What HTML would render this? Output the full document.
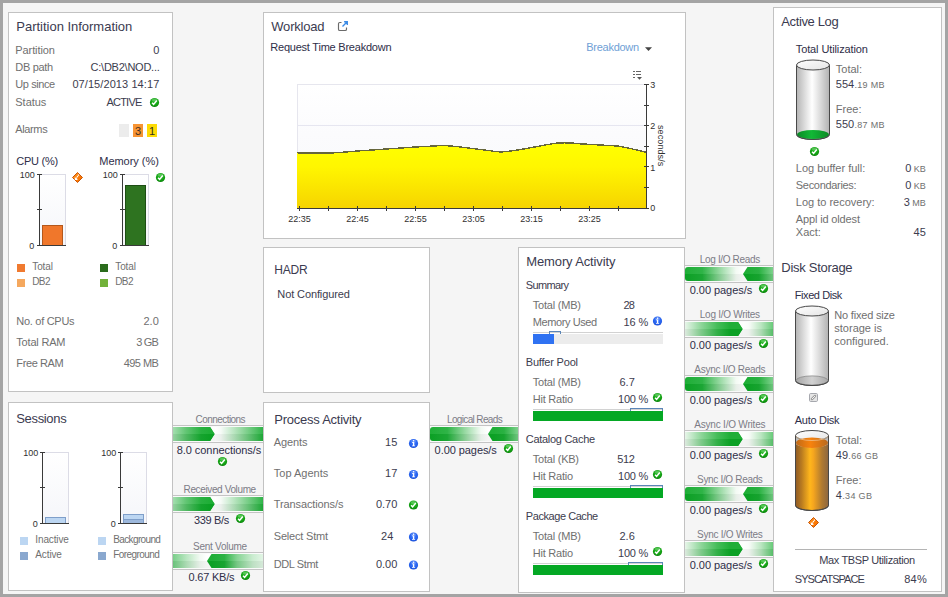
<!DOCTYPE html>
<html><head><meta charset="utf-8"><title>DB2 Partition Overview</title>
<style>
html,body{margin:0;padding:0}
body{width:948px;height:597px;background:#f5f5f5;position:relative;overflow:hidden;font-family:"Liberation Sans",sans-serif}
.fr{position:absolute;left:0;top:0;width:942px;height:591px;border:3px solid #a4a4a4;z-index:5;pointer-events:none}
.p{position:absolute;background:#fff;border:1px solid #c2c2c2}
.t{position:absolute;white-space:nowrap;line-height:20px;display:block}
svg{position:absolute;left:0;top:0}
</style></head>
<body>
<div class="p" style="left:8px;top:12px;width:163px;height:378px"></div>
<div class="p" style="left:8px;top:402px;width:163px;height:187px"></div>
<div class="p" style="left:263px;top:12px;width:421px;height:225px"></div>
<div class="p" style="left:263px;top:247px;width:165px;height:144px"></div>
<div class="p" style="left:263px;top:402px;width:165px;height:188px"></div>
<div class="p" style="left:518px;top:247px;width:165px;height:344px"></div>
<div class="p" style="left:773px;top:7px;width:167px;height:583px"></div>
<svg width="948" height="597" viewBox="0 0 948 597" shape-rendering="crispEdges">
<defs>
<linearGradient id="gbg" x1="0" y1="0" x2="0" y2="1"><stop offset="0" stop-color="#ffffff"/><stop offset="1" stop-color="#f5f6fa"/></linearGradient>
<linearGradient id="cbg" x1="0" y1="0" x2="0" y2="1"><stop offset="0" stop-color="#ffffff"/><stop offset="0.4" stop-color="#fbfbfd"/><stop offset="1" stop-color="#f7f8fb"/></linearGradient>
<linearGradient id="yel" gradientUnits="userSpaceOnUse" x1="0" y1="145" x2="0" y2="208"><stop offset="0" stop-color="#ffff00"/><stop offset="0.35" stop-color="#fff600"/><stop offset="1" stop-color="#f6d400"/></linearGradient>
<linearGradient id="cylg" x1="0" y1="0" x2="1" y2="0"><stop offset="0" stop-color="#b4b4b4"/><stop offset="0.25" stop-color="#dcdcdc"/><stop offset="0.47" stop-color="#ffffff"/><stop offset="0.7" stop-color="#dedede"/><stop offset="1" stop-color="#b2b2b2"/></linearGradient>
<linearGradient id="topg" x1="0" y1="0" x2="1" y2="1"><stop offset="0" stop-color="#ffffff"/><stop offset="1" stop-color="#e4e4e4"/></linearGradient>
<linearGradient id="btm" x1="0" y1="0" x2="1" y2="0"><stop offset="0" stop-color="#a6a6a6"/><stop offset="0.5" stop-color="#d2d2d2"/><stop offset="1" stop-color="#a8a8a8"/></linearGradient>
<linearGradient id="grn" x1="0" y1="0" x2="1" y2="0"><stop offset="0" stop-color="#0c8a26"/><stop offset="0.45" stop-color="#12b836"/><stop offset="1" stop-color="#0c8a26"/></linearGradient>
<linearGradient id="org" x1="0" y1="0" x2="1" y2="0"><stop offset="0" stop-color="#8e5a26"/><stop offset="0.18" stop-color="#b87a20"/><stop offset="0.44" stop-color="#ffb61c"/><stop offset="0.54" stop-color="#f6a61e"/><stop offset="0.8" stop-color="#b07a30"/><stop offset="1" stop-color="#8c6640"/></linearGradient>
<linearGradient id="orgt" x1="0" y1="0" x2="1" y2="0"><stop offset="0" stop-color="#c06a18"/><stop offset="0.45" stop-color="#f8820c"/><stop offset="1" stop-color="#b86a20"/></linearGradient>
<radialGradient id="ckg" cx="0.5" cy="0.35" r="0.65"><stop offset="0" stop-color="#2fc22f"/><stop offset="0.7" stop-color="#12a012"/><stop offset="1" stop-color="#0a7e0a"/></radialGradient>
<radialGradient id="infg" cx="0.5" cy="0.4" r="0.65"><stop offset="0" stop-color="#3f7bff"/><stop offset="0.7" stop-color="#2460ec"/><stop offset="1" stop-color="#1844c4"/></radialGradient>
<linearGradient id="diag" x1="0" y1="0" x2="1" y2="1"><stop offset="0" stop-color="#ffa028"/><stop offset="0.5" stop-color="#fb7a04"/><stop offset="1" stop-color="#f87000"/></linearGradient>
<g id="ck" shape-rendering="geometricPrecision"><circle r="4.6" fill="url(#ckg)"/><ellipse cx="0" cy="-2.4" rx="2.9" ry="1.5" fill="#fff" opacity="0.22"/><path d="M-2.4 0.2L-0.9 1.9L2.3 -2.0" fill="none" stroke="#fff" stroke-width="1.5"/></g>
<g id="inf" shape-rendering="geometricPrecision"><circle r="4.6" fill="url(#infg)"/><ellipse cx="0" cy="-2.4" rx="2.9" ry="1.5" fill="#fff" opacity="0.18"/><circle cx="0.1" cy="-2.7" r="0.8" fill="#fff"/><path d="M-1.5 -1.5H0.8V1.9H1.6V2.8H-1.5V1.9H-0.6V-0.7H-1.5Z" fill="#fff"/></g>
<g id="dia" shape-rendering="geometricPrecision"><path d="M0 -5L5 0L0 5L-5 0Z" fill="url(#diag)" stroke="#c85608" stroke-width="1"/><path d="M-2.7 -0.5V2.6H0.5Z" fill="#fff"/><path d="M-1.3 1.2L1.3 -3.0" stroke="#fff" stroke-width="1.4" stroke-dasharray="1.2 0.6" fill="none"/></g>
</defs>
<use href="#ck" x="154.5" y="102.5"/>
<rect x="119" y="124" width="10" height="13" fill="#ececec"/>
<rect x="133" y="124" width="10" height="13" fill="#f79433"/>
<rect x="147" y="124" width="10" height="13" fill="#fddb05"/>
<rect x="40" y="174" width="26" height="71" fill="url(#gbg)"/>
<path d="M40 174.5H65.5V245" fill="none" stroke="#dcdce6" stroke-width="1"/>
<path d="M37 174.5H42 M37 209.5H42 M39.5 174V246 M37 245.5H66" fill="none" stroke="#3a3a3a" stroke-width="1"/>
<rect x="42.5" y="225.5" width="20" height="20" fill="#f0772b" stroke="#b4581c" stroke-width="1"/>
<use href="#dia" x="77.5" y="177.5"/>
<rect x="123" y="174" width="26" height="71" fill="url(#gbg)"/>
<path d="M123 174.5H148.5V245" fill="none" stroke="#dcdce6" stroke-width="1"/>
<path d="M120 174.5H125 M120 209.5H125 M122.5 174V246 M120 245.5H149" fill="none" stroke="#3a3a3a" stroke-width="1"/>
<rect x="125.5" y="185.5" width="20" height="60" fill="#2e7320" stroke="#1d4d14" stroke-width="1"/>
<use href="#ck" x="160.5" y="177.5"/>
<rect x="17" y="264" width="8" height="8" fill="#f07a30"/>
<rect x="17" y="279" width="8" height="8" fill="#f5a85e"/>
<rect x="100" y="264" width="8" height="8" fill="#2b6c1c"/>
<rect x="100" y="279" width="8" height="8" fill="#72b23a"/>
<rect x="43" y="452" width="26" height="71" fill="url(#gbg)"/>
<path d="M43 452.5H68.5V523" fill="none" stroke="#dcdce6" stroke-width="1"/>
<path d="M40 452.5H45 M40 487.5H45 M42.5 452V524 M40 523.5H69" fill="none" stroke="#3a3a3a" stroke-width="1"/>
<rect x="45.5" y="517.5" width="20" height="6" fill="#bcd6f2" stroke="#7f9fca" stroke-width="1"/>
<rect x="121" y="452" width="26" height="71" fill="url(#gbg)"/>
<path d="M121 452.5H146.5V523" fill="none" stroke="#dcdce6" stroke-width="1"/>
<path d="M118 452.5H123 M118 487.5H123 M120.5 452V524 M118 523.5H147" fill="none" stroke="#3a3a3a" stroke-width="1"/>
<rect x="123.5" y="514.5" width="20" height="9" fill="#bcd6f2" stroke="#7f9fca" stroke-width="1"/>
<rect x="123.5" y="519.5" width="20" height="4" fill="#9db8dc" stroke="#7f9fca" stroke-width="1"/>
<rect x="20" y="537" width="8" height="8" fill="#bcd6f2"/>
<rect x="20" y="552" width="8" height="8" fill="#8aa8cf"/>
<rect x="98" y="537" width="8" height="8" fill="#bcd6f2"/>
<rect x="98" y="552" width="8" height="8" fill="#8aa8cf"/>
<rect x="173" y="426" width="90" height="16" fill="#fafafa"/>
<path d="M173 425.5H263 M173 442.5H263" stroke="#c4c4c4" stroke-width="1" fill="none"/>
<linearGradient id="fa1" gradientUnits="userSpaceOnUse" x1="173" x2="210.5"><stop offset="0" stop-color="#9cdba8"/><stop offset="0.35" stop-color="#55c168"/><stop offset="0.75" stop-color="#16ab30"/><stop offset="1" stop-color="#0ca826"/></linearGradient>
<linearGradient id="fb1" gradientUnits="userSpaceOnUse" x1="215" x2="263"><stop offset="0" stop-color="#ffffff"/><stop offset="0.12" stop-color="#f6fbf7"/><stop offset="0.55" stop-color="#8fd69b"/><stop offset="1" stop-color="#1fae39"/></linearGradient>
<rect x="211" y="427" width="52" height="14" fill="url(#fb1)"/>
<path d="M173 427H210.5L215 434.0L210.5 441H173Z" fill="url(#fa1)" shape-rendering="geometricPrecision"/>
<path d="M210.5 427L215 434.0L210.5 441L215.2 441L215.2 427Z" fill="#fdfefd" shape-rendering="geometricPrecision"/>
<rect x="173" y="427" width="90" height="7" fill="#ffffff" opacity="0.08"/>
<rect x="173" y="434" width="90" height="7" fill="#000000" opacity="0.045"/>
<use href="#ck" x="222.5" y="461.5"/>
<rect x="173" y="496" width="90" height="16" fill="#fafafa"/>
<path d="M173 495.5H263 M173 512.5H263" stroke="#c4c4c4" stroke-width="1" fill="none"/>
<linearGradient id="fa2" gradientUnits="userSpaceOnUse" x1="173" x2="210.5"><stop offset="0" stop-color="#9cdba8"/><stop offset="0.35" stop-color="#55c168"/><stop offset="0.75" stop-color="#16ab30"/><stop offset="1" stop-color="#0ca826"/></linearGradient>
<linearGradient id="fb2" gradientUnits="userSpaceOnUse" x1="215" x2="263"><stop offset="0" stop-color="#ffffff"/><stop offset="0.12" stop-color="#f6fbf7"/><stop offset="0.55" stop-color="#8fd69b"/><stop offset="1" stop-color="#1fae39"/></linearGradient>
<rect x="211" y="497" width="52" height="14" fill="url(#fb2)"/>
<path d="M173 497H210.5L215 504.0L210.5 511H173Z" fill="url(#fa2)" shape-rendering="geometricPrecision"/>
<path d="M210.5 497L215 504.0L210.5 511L215.2 511L215.2 497Z" fill="#fdfefd" shape-rendering="geometricPrecision"/>
<rect x="173" y="497" width="90" height="7" fill="#ffffff" opacity="0.08"/>
<rect x="173" y="504" width="90" height="7" fill="#000000" opacity="0.045"/>
<use href="#ck" x="240.5" y="518.5"/>
<rect x="173" y="553" width="90" height="16" fill="#fafafa"/>
<path d="M173 552.5H263 M173 569.5H263" stroke="#c4c4c4" stroke-width="1" fill="none"/>
<linearGradient id="fa3" gradientUnits="userSpaceOnUse" x1="173" x2="207"><stop offset="0" stop-color="#6fcb80"/><stop offset="0.4" stop-color="#b4e4bc"/><stop offset="0.8" stop-color="#f2faf3"/><stop offset="1" stop-color="#ffffff"/></linearGradient>
<linearGradient id="fb3" gradientUnits="userSpaceOnUse" x1="211.5" x2="263"><stop offset="0" stop-color="#0ca826"/><stop offset="0.25" stop-color="#1aac34"/><stop offset="0.5" stop-color="#7ed18c"/><stop offset="0.8" stop-color="#c6ebcc"/><stop offset="1" stop-color="#e0f4e3"/></linearGradient>
<rect x="173" y="554" width="38.5" height="14" fill="url(#fa3)"/>
<path d="M263 554H211.5L207 561.0L211.5 568H263Z" fill="url(#fb3)" shape-rendering="geometricPrecision"/>
<rect x="173" y="554" width="90" height="7" fill="#ffffff" opacity="0.08"/>
<rect x="173" y="561" width="90" height="7" fill="#000000" opacity="0.045"/>
<use href="#ck" x="245.5" y="575.5"/>
<rect x="430" y="426" width="88" height="16" fill="#fafafa"/>
<path d="M430 425.5H518 M430 442.5H518" stroke="#c4c4c4" stroke-width="1" fill="none"/>
<linearGradient id="fa4" gradientUnits="userSpaceOnUse" x1="430" x2="488"><stop offset="0" stop-color="#0ca826"/><stop offset="0.3" stop-color="#1eae38"/><stop offset="0.6" stop-color="#8ed69a"/><stop offset="0.88" stop-color="#f2faf3"/><stop offset="1" stop-color="#ffffff"/></linearGradient>
<linearGradient id="fb4" gradientUnits="userSpaceOnUse" x1="492.5" x2="518"><stop offset="0" stop-color="#0ca826"/><stop offset="0.45" stop-color="#18ab32"/><stop offset="1" stop-color="#74ce84"/></linearGradient>
<path d="M433 427H492.5V441H433Q430 441 430 438V430Q430 427 433 427Z" fill="url(#fa4)" shape-rendering="geometricPrecision"/>
<path d="M518 427H492.5L488 434.0L492.5 441H518Z" fill="url(#fb4)" shape-rendering="geometricPrecision"/>
<rect x="430" y="427" width="88" height="7" fill="#ffffff" opacity="0.08"/>
<rect x="430" y="434" width="88" height="7" fill="#000000" opacity="0.045"/>
<use href="#ck" x="508.5" y="448.5"/>
<rect x="685" y="266" width="88" height="16" fill="#fafafa"/>
<path d="M685 265.5H773 M685 282.5H773" stroke="#c4c4c4" stroke-width="1" fill="none"/>
<linearGradient id="fa5" gradientUnits="userSpaceOnUse" x1="685" x2="743"><stop offset="0" stop-color="#0ca826"/><stop offset="0.3" stop-color="#1eae38"/><stop offset="0.6" stop-color="#8ed69a"/><stop offset="0.88" stop-color="#f2faf3"/><stop offset="1" stop-color="#ffffff"/></linearGradient>
<linearGradient id="fb5" gradientUnits="userSpaceOnUse" x1="747.5" x2="773"><stop offset="0" stop-color="#0ca826"/><stop offset="0.45" stop-color="#18ab32"/><stop offset="1" stop-color="#74ce84"/></linearGradient>
<path d="M688 267H747.5V281H688Q685 281 685 278V270Q685 267 688 267Z" fill="url(#fa5)" shape-rendering="geometricPrecision"/>
<path d="M773 267H747.5L743 274.0L747.5 281H773Z" fill="url(#fb5)" shape-rendering="geometricPrecision"/>
<rect x="685" y="267" width="88" height="7" fill="#ffffff" opacity="0.08"/>
<rect x="685" y="274" width="88" height="7" fill="#000000" opacity="0.045"/>
<use href="#ck" x="763.5" y="288.5"/>
<rect x="685" y="321" width="88" height="16" fill="#fafafa"/>
<path d="M685 320.5H773 M685 337.5H773" stroke="#c4c4c4" stroke-width="1" fill="none"/>
<linearGradient id="fa6" gradientUnits="userSpaceOnUse" x1="685" x2="738.5"><stop offset="0" stop-color="#e6f5e8"/><stop offset="0.3" stop-color="#86d392"/><stop offset="0.6" stop-color="#36b84c"/><stop offset="0.85" stop-color="#0ca826"/><stop offset="1" stop-color="#0ca826"/></linearGradient>
<linearGradient id="fb6" gradientUnits="userSpaceOnUse" x1="743" x2="773"><stop offset="0" stop-color="#ffffff"/><stop offset="0.2" stop-color="#f8fcf8"/><stop offset="0.6" stop-color="#b5e4bc"/><stop offset="1" stop-color="#5cc66e"/></linearGradient>
<rect x="739" y="322" width="34" height="14" fill="url(#fb6)"/>
<path d="M685 322H738.5L743 329.0L738.5 336H685Z" fill="url(#fa6)" shape-rendering="geometricPrecision"/>
<path d="M738.5 322L743 329.0L738.5 336L743.2 336L743.2 322Z" fill="#fdfefd" shape-rendering="geometricPrecision"/>
<rect x="685" y="322" width="88" height="7" fill="#ffffff" opacity="0.08"/>
<rect x="685" y="329" width="88" height="7" fill="#000000" opacity="0.045"/>
<use href="#ck" x="763.5" y="343.5"/>
<rect x="685" y="376" width="88" height="16" fill="#fafafa"/>
<path d="M685 375.5H773 M685 392.5H773" stroke="#c4c4c4" stroke-width="1" fill="none"/>
<linearGradient id="fa7" gradientUnits="userSpaceOnUse" x1="685" x2="743"><stop offset="0" stop-color="#0ca826"/><stop offset="0.3" stop-color="#1eae38"/><stop offset="0.6" stop-color="#8ed69a"/><stop offset="0.88" stop-color="#f2faf3"/><stop offset="1" stop-color="#ffffff"/></linearGradient>
<linearGradient id="fb7" gradientUnits="userSpaceOnUse" x1="747.5" x2="773"><stop offset="0" stop-color="#0ca826"/><stop offset="0.45" stop-color="#18ab32"/><stop offset="1" stop-color="#74ce84"/></linearGradient>
<path d="M688 377H747.5V391H688Q685 391 685 388V380Q685 377 688 377Z" fill="url(#fa7)" shape-rendering="geometricPrecision"/>
<path d="M773 377H747.5L743 384.0L747.5 391H773Z" fill="url(#fb7)" shape-rendering="geometricPrecision"/>
<rect x="685" y="377" width="88" height="7" fill="#ffffff" opacity="0.08"/>
<rect x="685" y="384" width="88" height="7" fill="#000000" opacity="0.045"/>
<use href="#ck" x="763.5" y="398.5"/>
<rect x="685" y="431" width="88" height="16" fill="#fafafa"/>
<path d="M685 430.5H773 M685 447.5H773" stroke="#c4c4c4" stroke-width="1" fill="none"/>
<linearGradient id="fa8" gradientUnits="userSpaceOnUse" x1="685" x2="738.5"><stop offset="0" stop-color="#e6f5e8"/><stop offset="0.3" stop-color="#86d392"/><stop offset="0.6" stop-color="#36b84c"/><stop offset="0.85" stop-color="#0ca826"/><stop offset="1" stop-color="#0ca826"/></linearGradient>
<linearGradient id="fb8" gradientUnits="userSpaceOnUse" x1="743" x2="773"><stop offset="0" stop-color="#ffffff"/><stop offset="0.2" stop-color="#f8fcf8"/><stop offset="0.6" stop-color="#b5e4bc"/><stop offset="1" stop-color="#5cc66e"/></linearGradient>
<rect x="739" y="432" width="34" height="14" fill="url(#fb8)"/>
<path d="M685 432H738.5L743 439.0L738.5 446H685Z" fill="url(#fa8)" shape-rendering="geometricPrecision"/>
<path d="M738.5 432L743 439.0L738.5 446L743.2 446L743.2 432Z" fill="#fdfefd" shape-rendering="geometricPrecision"/>
<rect x="685" y="432" width="88" height="7" fill="#ffffff" opacity="0.08"/>
<rect x="685" y="439" width="88" height="7" fill="#000000" opacity="0.045"/>
<use href="#ck" x="763.5" y="453.5"/>
<rect x="685" y="486" width="88" height="16" fill="#fafafa"/>
<path d="M685 485.5H773 M685 502.5H773" stroke="#c4c4c4" stroke-width="1" fill="none"/>
<linearGradient id="fa9" gradientUnits="userSpaceOnUse" x1="685" x2="743"><stop offset="0" stop-color="#0ca826"/><stop offset="0.3" stop-color="#1eae38"/><stop offset="0.6" stop-color="#8ed69a"/><stop offset="0.88" stop-color="#f2faf3"/><stop offset="1" stop-color="#ffffff"/></linearGradient>
<linearGradient id="fb9" gradientUnits="userSpaceOnUse" x1="747.5" x2="773"><stop offset="0" stop-color="#0ca826"/><stop offset="0.45" stop-color="#18ab32"/><stop offset="1" stop-color="#74ce84"/></linearGradient>
<path d="M688 487H747.5V501H688Q685 501 685 498V490Q685 487 688 487Z" fill="url(#fa9)" shape-rendering="geometricPrecision"/>
<path d="M773 487H747.5L743 494.0L747.5 501H773Z" fill="url(#fb9)" shape-rendering="geometricPrecision"/>
<rect x="685" y="487" width="88" height="7" fill="#ffffff" opacity="0.08"/>
<rect x="685" y="494" width="88" height="7" fill="#000000" opacity="0.045"/>
<use href="#ck" x="763.5" y="508.5"/>
<rect x="685" y="541" width="88" height="16" fill="#fafafa"/>
<path d="M685 540.5H773 M685 557.5H773" stroke="#c4c4c4" stroke-width="1" fill="none"/>
<linearGradient id="fa10" gradientUnits="userSpaceOnUse" x1="685" x2="738.5"><stop offset="0" stop-color="#e6f5e8"/><stop offset="0.3" stop-color="#86d392"/><stop offset="0.6" stop-color="#36b84c"/><stop offset="0.85" stop-color="#0ca826"/><stop offset="1" stop-color="#0ca826"/></linearGradient>
<linearGradient id="fb10" gradientUnits="userSpaceOnUse" x1="743" x2="773"><stop offset="0" stop-color="#ffffff"/><stop offset="0.2" stop-color="#f8fcf8"/><stop offset="0.6" stop-color="#b5e4bc"/><stop offset="1" stop-color="#5cc66e"/></linearGradient>
<rect x="739" y="542" width="34" height="14" fill="url(#fb10)"/>
<path d="M685 542H738.5L743 549.0L738.5 556H685Z" fill="url(#fa10)" shape-rendering="geometricPrecision"/>
<path d="M738.5 542L743 549.0L738.5 556L743.2 556L743.2 542Z" fill="#fdfefd" shape-rendering="geometricPrecision"/>
<rect x="685" y="542" width="88" height="7" fill="#ffffff" opacity="0.08"/>
<rect x="685" y="549" width="88" height="7" fill="#000000" opacity="0.045"/>
<use href="#ck" x="763.5" y="563.5"/>
<path d="M341.5 22.5H339.8Q338.5 22.5 338.5 23.8V29.2Q338.5 30.5 339.8 30.5H345.2Q346.5 30.5 346.5 29.2V27.5" fill="none" stroke="#6a6a6a" stroke-width="1.15" shape-rendering="geometricPrecision"/>
<path d="M342.5 26.5L347.2 21.8M344.1 21.7H347.3V24.9" fill="none" stroke="#3b8be6" stroke-width="1.35" shape-rendering="geometricPrecision"/>
<path d="M645 47.2H652L648.5 51Z" fill="#444" shape-rendering="geometricPrecision"/>
<path d="M633 71.5h2M636 71.5h5M633 74.5h2M636 74.5h5M633 77.5h2" stroke="#666" stroke-width="1" fill="none"/>
<path d="M637 77H642L639.5 79.8Z" fill="#555" shape-rendering="geometricPrecision"/>
<rect x="297" y="84" width="349" height="124" fill="url(#cbg)"/>
<path d="M297.5 208V84.5H646" fill="none" stroke="#e6e6ee" stroke-width="1"/>
<path d="M297 125.5H646" stroke="#e6e6f0" stroke-width="1"/>
<path d="M297 152.8 L312 153.0 L328 153.2 L343 152.2 L357 151.0 L372 150.0 L386 149.0 L401 148.0 L415 147.0 L430 146.2 L440 145.6 L448 145.8 L459 146.8 L473.5 148.6 L488 150.4 L496 151.6 L501 152.0 L508 151.4 L520 149.6 L531.5 147.6 L545 145.0 L556 143.2 L564 142.8 L572 143.0 L580 143.8 L590 144.4 L600 145.0 L612 145.6 L619 146.2 L628 148.0 L637 150.0 L646 152.2 L646 208 L297 208Z" fill="url(#yel)" shape-rendering="geometricPrecision"/>
<path d="M297 152.8 L312 153.0 L328 153.2 L343 152.2 L357 151.0 L372 150.0 L386 149.0 L401 148.0 L415 147.0 L430 146.2 L440 145.6 L448 145.8 L459 146.8 L473.5 148.6 L488 150.4 L496 151.6 L501 152.0 L508 151.4 L520 149.6 L531.5 147.6 L545 145.0 L556 143.2 L564 142.8 L572 143.0 L580 143.8 L590 144.4 L600 145.0 L612 145.6 L619 146.2 L628 148.0 L637 150.0 L646 152.2" fill="none" stroke="#66663c" stroke-width="1.4" shape-rendering="crispEdges"/>
<path d="M297 208.5H647 M646.5 84V209 M299.5 206V211 M328.5 206V211 M357.5 206V211 M386.5 206V211 M415.5 206V211 M444.5 206V211 M473.5 206V211 M502.5 206V211 M531.5 206V211 M560.5 206V211 M589.5 206V211 M618.5 206V211 M644 84.5H649 M644 105.5H649 M644 125.5H649 M644 146.5H649 M644 166.5H649 M644 187.5H649 M644 208.5H649" fill="none" stroke="#3a3a3a" stroke-width="1"/>
<use href="#inf" x="413.5" y="443.5"/>
<use href="#inf" x="413.5" y="474.5"/>
<use href="#ck" x="413.5" y="505"/>
<use href="#inf" x="413.5" y="537"/>
<use href="#inf" x="413.5" y="565"/>
<use href="#inf" x="657.5" y="321"/>
<path d="M533 332.5H663" stroke="#d2d2d2" stroke-width="1" fill="none"/>
<path d="M549.5 334V331.5H560.5V334" stroke="#5b86b8" stroke-width="1" fill="none"/>
<rect x="533" y="334" width="130" height="10" fill="#ececec"/>
<rect x="533" y="334" width="21" height="10" fill="#2f72f2"/>
<use href="#ck" x="657.5" y="397.5"/>
<path d="M533 409.5H663" stroke="#d2d2d2" stroke-width="1" fill="none"/>
<path d="M630.5 411V408.5H662.5V411" stroke="#5b86b8" stroke-width="1" fill="none"/>
<rect x="533" y="411" width="130" height="10" fill="#ececec"/>
<rect x="533" y="411" width="130" height="10" fill="#04a824"/>
<use href="#ck" x="657.5" y="474.5"/>
<path d="M533 486.5H663" stroke="#d2d2d2" stroke-width="1" fill="none"/>
<path d="M630.5 488V485.5H662.5V488" stroke="#5b86b8" stroke-width="1" fill="none"/>
<rect x="533" y="488" width="130" height="10" fill="#ececec"/>
<rect x="533" y="488" width="130" height="10" fill="#04a824"/>
<use href="#ck" x="657.5" y="551.5"/>
<path d="M533 563.5H663" stroke="#d2d2d2" stroke-width="1" fill="none"/>
<path d="M628.5 565V562.5H662.5V565" stroke="#5b86b8" stroke-width="1" fill="none"/>
<rect x="533" y="565" width="130" height="10" fill="#ececec"/>
<rect x="533" y="565" width="130" height="10" fill="#04a824"/>
<path d="M796.5 65V134.5A16.5 5 0 0 0 829.5 134.5V65Z" fill="url(#cylg)" stroke="#484848" stroke-width="1" shape-rendering="geometricPrecision"/>
<ellipse cx="813.0" cy="134.5" rx="15.9" ry="4.6" fill="url(#grn)" shape-rendering="geometricPrecision"/>
<path d="M796.5 134.5A16.5 5 0 0 0 829.5 134.5" fill="none" stroke="#484848" stroke-width="1" shape-rendering="geometricPrecision"/>
<ellipse cx="813.0" cy="65" rx="16.5" ry="5" fill="url(#topg)" stroke="#484848" stroke-width="1" shape-rendering="geometricPrecision"/>
<use href="#ck" x="814.5" y="151.5"/>
<path d="M795.5 311V380.5A16.5 5 0 0 0 828.5 380.5V311Z" fill="url(#cylg)" stroke="#484848" stroke-width="1" shape-rendering="geometricPrecision"/>
<ellipse cx="812.0" cy="380.5" rx="15.9" ry="4.6" fill="url(#btm)" stroke="#8a8a8a" stroke-width="0.8" shape-rendering="geometricPrecision"/>
<path d="M795.5 380.5A16.5 5 0 0 0 828.5 380.5" fill="none" stroke="#484848" stroke-width="1" shape-rendering="geometricPrecision"/>
<ellipse cx="812.0" cy="311" rx="16.5" ry="5" fill="url(#topg)" stroke="#484848" stroke-width="1" shape-rendering="geometricPrecision"/>
<rect x="809.5" y="393.5" width="8" height="8" rx="1.2" fill="#e6e6e6" stroke="#a6a8ae" stroke-width="1" shape-rendering="geometricPrecision"/>
<path d="M811.9 399.1L815.1 395.9" stroke="#9a9a9a" stroke-width="2.4" stroke-linecap="round" shape-rendering="geometricPrecision"/><path d="M812.2 398.8L814.8 396.2" stroke="#ffffff" stroke-width="0.9" stroke-linecap="round" shape-rendering="geometricPrecision"/>
<path d="M795.5 435.5V505.5A16.5 5 0 0 0 828.5 505.5V435.5Z" fill="url(#org)" stroke="#484848" stroke-width="1" shape-rendering="geometricPrecision"/>
<path d="M795.5 435.5V442.7A16.5 5 0 0 0 828.5 442.7V435.5A16.5 5 0 0 1 795.5 435.5Z" fill="url(#cylg)" shape-rendering="geometricPrecision"/>
<ellipse cx="812.0" cy="435.5" rx="16.5" ry="5" fill="url(#topg)" stroke="#484848" stroke-width="1" shape-rendering="geometricPrecision"/>
<ellipse cx="812.0" cy="442.7" rx="16.0" ry="5.2" fill="url(#orgt)" shape-rendering="geometricPrecision"/>
<path d="M795.5 435.5A16.5 5 0 0 0 828.5 435.5" fill="none" stroke="#f0d0a8" stroke-opacity="0.8" stroke-width="0.8" shape-rendering="geometricPrecision"/>
<path d="M795.5 435.5V505.5A16.5 5 0 0 0 828.5 505.5V435.5" fill="none" stroke="#484848" stroke-width="1" shape-rendering="geometricPrecision"/>
<use href="#dia" x="813.5" y="522.5"/>
<path d="M795 549.5H927" stroke="#b4b4b4" stroke-width="1"/>
<path d="M37 245.5H66" fill="none" stroke="#3a3a3a" stroke-width="1"/>
<path d="M120 245.5H149" fill="none" stroke="#3a3a3a" stroke-width="1"/>
<path d="M40 523.5H69" fill="none" stroke="#3a3a3a" stroke-width="1"/>
<path d="M118 523.5H147" fill="none" stroke="#3a3a3a" stroke-width="1"/></svg>
<span class="t" style="left:16.30px;top:17.00px;font-size:13px;color:#3b3b50;letter-spacing:-0.016px;">Partition Information</span>
<span class="t" style="left:15.30px;top:40.00px;font-size:11px;color:#707070;letter-spacing:-0.095px;">Partition</span>
<span class="t" style="left:15.30px;top:57.00px;font-size:11px;color:#707070;letter-spacing:-0.321px;">DB path</span>
<span class="t" style="left:15.30px;top:74.00px;font-size:11px;color:#707070;letter-spacing:-0.412px;">Up since</span>
<span class="t" style="left:15.30px;top:92.00px;font-size:11px;color:#707070;letter-spacing:-0.031px;">Status</span>
<span class="t" style="left:15.30px;top:119.00px;font-size:11px;color:#707070;letter-spacing:-0.371px;">Alarms</span>
<span class="t" style="left:153.18px;top:40.00px;font-size:11px;color:#3c3c4e;">0</span>
<span class="t" style="left:90.56px;top:57.00px;font-size:11px;color:#3c3c4e;letter-spacing:-0.240px;">C:\DB2\NOD...</span>
<span class="t" style="left:72.39px;top:74.00px;font-size:11px;color:#3c3c4e;letter-spacing:0.085px;">07/15/2013 14:17</span>
<span class="t" style="left:106.49px;top:92.00px;font-size:11px;color:#3c3c4e;letter-spacing:-0.789px;">ACTIVE</span>
<span class="t" style="left:134.94px;top:121.00px;font-size:11px;color:#3c3024;">3</span>
<span class="t" style="left:148.94px;top:121.00px;font-size:11px;color:#34301c;">1</span>
<span class="t" style="left:16.30px;top:151.00px;font-size:11px;color:#2e2e48;letter-spacing:-0.270px;">CPU (%)</span>
<span class="t" style="left:99.30px;top:151.00px;font-size:11px;color:#2e2e48;letter-spacing:-0.039px;">Memory (%)</span>
<span class="t" style="left:19.80px;top:165.00px;font-size:9px;color:#303030;">100</span>
<span class="t" style="left:29.30px;top:236.00px;font-size:9px;color:#303030;">0</span>
<span class="t" style="left:102.80px;top:165.00px;font-size:9px;color:#303030;">100</span>
<span class="t" style="left:112.30px;top:236.00px;font-size:9px;color:#303030;">0</span>
<span class="t" style="left:32.30px;top:257.00px;font-size:10px;color:#707070;letter-spacing:-0.126px;">Total</span>
<span class="t" style="left:32.30px;top:272.00px;font-size:10px;color:#707070;letter-spacing:-0.652px;">DB2</span>
<span class="t" style="left:115.30px;top:257.00px;font-size:10px;color:#707070;letter-spacing:-0.126px;">Total</span>
<span class="t" style="left:115.30px;top:272.00px;font-size:10px;color:#707070;letter-spacing:-0.652px;">DB2</span>
<span class="t" style="left:16.30px;top:311.00px;font-size:11px;color:#707070;letter-spacing:-0.284px;">No. of CPUs</span>
<span class="t" style="left:143.41px;top:311.00px;font-size:11px;color:#707070;letter-spacing:0.070px;">2.0</span>
<span class="t" style="left:16.30px;top:332.00px;font-size:11px;color:#707070;letter-spacing:-0.193px;">Total RAM</span>
<span class="t" style="left:136.35px;top:332.00px;font-size:11px;color:#707070;letter-spacing:-0.892px;">3 GB</span>
<span class="t" style="left:16.30px;top:353.00px;font-size:11px;color:#707070;letter-spacing:-0.390px;">Free RAM</span>
<span class="t" style="left:123.77px;top:353.00px;font-size:11px;color:#707070;letter-spacing:-0.568px;">495 MB</span>
<span class="t" style="left:16.30px;top:409.00px;font-size:13px;color:#3b3b50;letter-spacing:-0.344px;">Sessions</span>
<span class="t" style="left:23.30px;top:443.00px;font-size:9px;color:#303030;">100</span>
<span class="t" style="left:32.80px;top:514.00px;font-size:9px;color:#303030;">0</span>
<span class="t" style="left:101.30px;top:443.00px;font-size:9px;color:#303030;">100</span>
<span class="t" style="left:110.80px;top:514.00px;font-size:9px;color:#303030;">0</span>
<span class="t" style="left:35.30px;top:530.00px;font-size:10px;color:#707070;letter-spacing:-0.121px;">Inactive</span>
<span class="t" style="left:35.30px;top:545.00px;font-size:10px;color:#707070;letter-spacing:-0.122px;">Active</span>
<span class="t" style="left:113.30px;top:530.00px;font-size:10px;color:#707070;letter-spacing:-0.637px;">Background</span>
<span class="t" style="left:113.30px;top:545.00px;font-size:10px;color:#707070;letter-spacing:-0.571px;">Foreground</span>
<span class="t" style="left:195.60px;top:410.00px;font-size:10px;color:#7c7c86;letter-spacing:-0.564px;">Connections</span>
<span class="t" style="left:176.80px;top:440.00px;font-size:11px;color:#2e2e48;letter-spacing:-0.071px;">8.0 connections/s</span>
<span class="t" style="left:183.60px;top:480.00px;font-size:10px;color:#7c7c86;letter-spacing:-0.376px;">Received Volume</span>
<span class="t" style="left:194.00px;top:510.00px;font-size:11px;color:#2e2e48;letter-spacing:-0.329px;">339 B/s</span>
<span class="t" style="left:193.10px;top:537.00px;font-size:10px;color:#7c7c86;letter-spacing:-0.265px;">Sent Volume</span>
<span class="t" style="left:188.50px;top:567.00px;font-size:11px;color:#2e2e48;letter-spacing:-0.211px;">0.67 KB/s</span>
<span class="t" style="left:447.00px;top:410.00px;font-size:10px;color:#7c7c86;letter-spacing:-0.645px;">Logical Reads</span>
<span class="t" style="left:434.60px;top:440.00px;font-size:11px;color:#2e2e48;letter-spacing:-0.066px;">0.00 pages/s</span>
<span class="t" style="left:699.80px;top:250.00px;font-size:10px;color:#7c7c86;letter-spacing:-0.346px;">Log I/O Reads</span>
<span class="t" style="left:689.80px;top:280.00px;font-size:11px;color:#2e2e48;letter-spacing:-0.058px;">0.00 pages/s</span>
<span class="t" style="left:699.80px;top:305.00px;font-size:10px;color:#7c7c86;letter-spacing:-0.267px;">Log I/O Writes</span>
<span class="t" style="left:689.80px;top:335.00px;font-size:11px;color:#2e2e48;letter-spacing:-0.058px;">0.00 pages/s</span>
<span class="t" style="left:694.30px;top:360.00px;font-size:10px;color:#7c7c86;letter-spacing:-0.269px;">Async I/O Reads</span>
<span class="t" style="left:689.80px;top:390.00px;font-size:11px;color:#2e2e48;letter-spacing:-0.058px;">0.00 pages/s</span>
<span class="t" style="left:694.30px;top:415.00px;font-size:10px;color:#7c7c86;letter-spacing:-0.205px;">Async I/O Writes</span>
<span class="t" style="left:689.80px;top:445.00px;font-size:11px;color:#2e2e48;letter-spacing:-0.058px;">0.00 pages/s</span>
<span class="t" style="left:697.05px;top:470.00px;font-size:10px;color:#7c7c86;letter-spacing:-0.324px;">Sync I/O Reads</span>
<span class="t" style="left:689.80px;top:500.00px;font-size:11px;color:#2e2e48;letter-spacing:-0.058px;">0.00 pages/s</span>
<span class="t" style="left:697.05px;top:525.00px;font-size:10px;color:#7c7c86;letter-spacing:-0.252px;">Sync I/O Writes</span>
<span class="t" style="left:689.80px;top:555.00px;font-size:11px;color:#2e2e48;letter-spacing:-0.058px;">0.00 pages/s</span>
<span class="t" style="left:271.30px;top:17.00px;font-size:13px;color:#3b3b50;letter-spacing:-0.209px;">Workload</span>
<span class="t" style="left:270.30px;top:37.00px;font-size:11px;color:#2e2e48;letter-spacing:-0.225px;">Request Time Breakdown</span>
<span class="t" style="left:586.30px;top:37.00px;font-size:11px;color:#6f9fd6;letter-spacing:-0.281px;">Breakdown</span>
<span class="t" style="left:288.24px;top:209.00px;font-size:9px;color:#303030;">22:35</span>
<span class="t" style="left:346.24px;top:209.00px;font-size:9px;color:#303030;">22:45</span>
<span class="t" style="left:404.24px;top:209.00px;font-size:9px;color:#303030;">22:55</span>
<span class="t" style="left:462.24px;top:209.00px;font-size:9px;color:#303030;">23:05</span>
<span class="t" style="left:520.24px;top:209.00px;font-size:9px;color:#303030;">23:15</span>
<span class="t" style="left:578.24px;top:209.00px;font-size:9px;color:#303030;">23:25</span>
<span class="t" style="left:650.30px;top:75.00px;font-size:9px;color:#303030;">3</span>
<span class="t" style="left:650.30px;top:116.00px;font-size:9px;color:#303030;">2</span>
<span class="t" style="left:650.30px;top:158.00px;font-size:9px;color:#303030;">1</span>
<span class="t" style="left:650.30px;top:198.00px;font-size:9px;color:#303030;">0</span>
<span class="t" style="left:666.5px;top:124.5px;font-size:9px;letter-spacing:0.1px;color:#303030;transform-origin:0 0;transform:rotate(90deg);line-height:12px">seconds/s</span>
<span class="t" style="left:274.30px;top:260.00px;font-size:12px;color:#3b3b50;letter-spacing:-0.250px;">HADR</span>
<span class="t" style="left:277.30px;top:284.00px;font-size:11px;color:#3c3c4e;letter-spacing:-0.106px;">Not Configured</span>
<span class="t" style="left:274.30px;top:410.00px;font-size:13px;color:#3b3b50;letter-spacing:-0.252px;">Process Activity</span>
<span class="t" style="left:273.80px;top:432.00px;font-size:11px;color:#707070;letter-spacing:-0.124px;">Agents</span>
<span class="t" style="left:385.05px;top:432.00px;font-size:11px;color:#3c3c4e;">15</span>
<span class="t" style="left:273.80px;top:463.00px;font-size:11px;color:#707070;letter-spacing:0.007px;">Top Agents</span>
<span class="t" style="left:385.05px;top:463.00px;font-size:11px;color:#3c3c4e;">17</span>
<span class="t" style="left:273.80px;top:494.00px;font-size:11px;color:#707070;letter-spacing:-0.116px;">Transactions/s</span>
<span class="t" style="left:375.93px;top:494.00px;font-size:11px;color:#3c3c4e;">0.70</span>
<span class="t" style="left:273.80px;top:526.00px;font-size:11px;color:#707070;letter-spacing:-0.204px;">Select Stmt</span>
<span class="t" style="left:381.05px;top:526.00px;font-size:11px;color:#3c3c4e;">24</span>
<span class="t" style="left:273.80px;top:554.00px;font-size:11px;color:#707070;letter-spacing:-0.408px;">DDL Stmt</span>
<span class="t" style="left:375.93px;top:554.00px;font-size:11px;color:#3c3c4e;">0.00</span>
<span class="t" style="left:526.30px;top:252.00px;font-size:13px;color:#3b3b50;letter-spacing:-0.135px;">Memory Activity</span>
<span class="t" style="left:525.80px;top:275.00px;font-size:11px;color:#3c3c4e;letter-spacing:-0.652px;">Summary</span>
<span class="t" style="left:532.80px;top:295.00px;font-size:11px;color:#707070;letter-spacing:-0.212px;">Total (MB)</span>
<span class="t" style="left:623.42px;top:295.00px;font-size:11px;color:#3c3c4e;letter-spacing:-0.867px;">28</span>
<span class="t" style="left:532.80px;top:312.00px;font-size:11px;color:#707070;letter-spacing:-0.406px;">Memory Used</span>
<span class="t" style="left:623.60px;top:312.00px;font-size:11px;color:#3c3c4e;letter-spacing:-0.143px;">16 %</span>
<span class="t" style="left:525.80px;top:352.00px;font-size:11px;color:#3c3c4e;letter-spacing:-0.202px;">Buffer Pool</span>
<span class="t" style="left:532.80px;top:372.00px;font-size:11px;color:#707070;letter-spacing:-0.212px;">Total (MB)</span>
<span class="t" style="left:619.41px;top:372.00px;font-size:11px;color:#3c3c4e;letter-spacing:0.070px;">6.7</span>
<span class="t" style="left:532.80px;top:389.00px;font-size:11px;color:#707070;letter-spacing:-0.242px;">Hit Ratio</span>
<span class="t" style="left:618.00px;top:389.00px;font-size:11px;color:#3c3c4e;letter-spacing:-0.238px;">100 %</span>
<span class="t" style="left:525.80px;top:429.00px;font-size:11px;color:#3c3c4e;letter-spacing:-0.290px;">Catalog Cache</span>
<span class="t" style="left:532.80px;top:449.00px;font-size:11px;color:#707070;letter-spacing:-0.229px;">Total (KB)</span>
<span class="t" style="left:617.33px;top:449.00px;font-size:11px;color:#3c3c4e;letter-spacing:-0.451px;">512</span>
<span class="t" style="left:532.80px;top:466.00px;font-size:11px;color:#707070;letter-spacing:-0.242px;">Hit Ratio</span>
<span class="t" style="left:618.00px;top:466.00px;font-size:11px;color:#3c3c4e;letter-spacing:-0.238px;">100 %</span>
<span class="t" style="left:525.80px;top:506.00px;font-size:11px;color:#3c3c4e;letter-spacing:-0.435px;">Package Cache</span>
<span class="t" style="left:532.80px;top:526.00px;font-size:11px;color:#707070;letter-spacing:-0.212px;">Total (MB)</span>
<span class="t" style="left:619.41px;top:526.00px;font-size:11px;color:#3c3c4e;letter-spacing:0.070px;">2.6</span>
<span class="t" style="left:532.80px;top:543.00px;font-size:11px;color:#707070;letter-spacing:-0.242px;">Hit Ratio</span>
<span class="t" style="left:618.00px;top:543.00px;font-size:11px;color:#3c3c4e;letter-spacing:-0.238px;">100 %</span>
<span class="t" style="left:781.30px;top:12.00px;font-size:13px;color:#3b3b50;letter-spacing:-0.371px;">Active Log</span>
<span class="t" style="left:795.80px;top:39.00px;font-size:11px;color:#2e2e48;letter-spacing:-0.116px;">Total Utilization</span>
<span class="t" style="left:835.80px;top:59.00px;font-size:11px;color:#707070;">Total:</span>
<span class="t" style="left:835.80px;top:74.00px;font-size:11px;color:#3c3c4e;">554</span>
<span class="t" style="left:854.45px;top:75.00px;font-size:9px;color:#707070;letter-spacing:0.333px;">.19 MB</span>
<span class="t" style="left:835.80px;top:99.00px;font-size:11px;color:#707070;">Free:</span>
<span class="t" style="left:835.80px;top:114.00px;font-size:11px;color:#3c3c4e;">550</span>
<span class="t" style="left:854.45px;top:115.00px;font-size:9px;color:#707070;letter-spacing:0.333px;">.87 MB</span>
<span class="t" style="left:795.80px;top:158.00px;font-size:11px;color:#707070;">Log buffer full:</span>
<span class="t" style="left:913.80px;top:159.00px;font-size:9px;color:#707070;">KB</span>
<span class="t" style="left:905.17px;top:158.00px;font-size:11px;color:#3c3c4e;">0</span>
<span class="t" style="left:795.80px;top:175.00px;font-size:11px;color:#707070;letter-spacing:-0.309px;">Secondaries:</span>
<span class="t" style="left:913.80px;top:176.00px;font-size:9px;color:#707070;">KB</span>
<span class="t" style="left:905.17px;top:175.00px;font-size:11px;color:#3c3c4e;">0</span>
<span class="t" style="left:795.80px;top:192.00px;font-size:11px;color:#707070;">Log to recovery:</span>
<span class="t" style="left:912.30px;top:193.00px;font-size:9px;color:#707070;">MB</span>
<span class="t" style="left:903.67px;top:192.00px;font-size:11px;color:#3c3c4e;">3</span>
<span class="t" style="left:795.80px;top:209.00px;font-size:11px;color:#707070;letter-spacing:-0.146px;">Appl id oldest</span>
<span class="t" style="left:795.80px;top:222.00px;font-size:11px;color:#707070;">Xact:</span>
<span class="t" style="left:913.55px;top:222.00px;font-size:11px;color:#3c3c4e;">45</span>
<span class="t" style="left:781.30px;top:258.00px;font-size:13px;color:#3b3b50;letter-spacing:-0.285px;">Disk Storage</span>
<span class="t" style="left:794.80px;top:285.00px;font-size:11px;color:#2e2e48;letter-spacing:-0.434px;">Fixed Disk</span>
<span class="t" style="left:834.30px;top:305.00px;font-size:11px;color:#707070;letter-spacing:-0.190px;">No fixed size</span>
<span class="t" style="left:834.30px;top:318.00px;font-size:11px;color:#707070;">storage is</span>
<span class="t" style="left:834.30px;top:331.00px;font-size:11px;color:#707070;">configured.</span>
<span class="t" style="left:794.80px;top:410.00px;font-size:11px;color:#2e2e48;letter-spacing:-0.286px;">Auto Disk</span>
<span class="t" style="left:835.80px;top:430.00px;font-size:11px;color:#707070;">Total:</span>
<span class="t" style="left:835.80px;top:445.00px;font-size:11px;color:#3c3c4e;">49</span>
<span class="t" style="left:848.33px;top:446.00px;font-size:9px;color:#707070;letter-spacing:0.333px;">.66 GB</span>
<span class="t" style="left:835.80px;top:470.00px;font-size:11px;color:#707070;">Free:</span>
<span class="t" style="left:835.80px;top:485.00px;font-size:11px;color:#3c3c4e;">4</span>
<span class="t" style="left:842.22px;top:486.00px;font-size:9px;color:#707070;letter-spacing:0.333px;">.34 GB</span>
<span class="t" style="left:819.30px;top:550.00px;font-size:11px;color:#3c3c4e;letter-spacing:-0.371px;">Max TBSP Utilization</span>
<span class="t" style="left:794.80px;top:569.00px;font-size:11px;color:#3c3c4e;letter-spacing:-0.971px;">SYSCATSPACE</span>
<span class="t" style="left:904.14px;top:569.00px;font-size:11px;color:#3c3c4e;letter-spacing:0.328px;">84%</span>
<div class="fr"></div>
</body></html>
